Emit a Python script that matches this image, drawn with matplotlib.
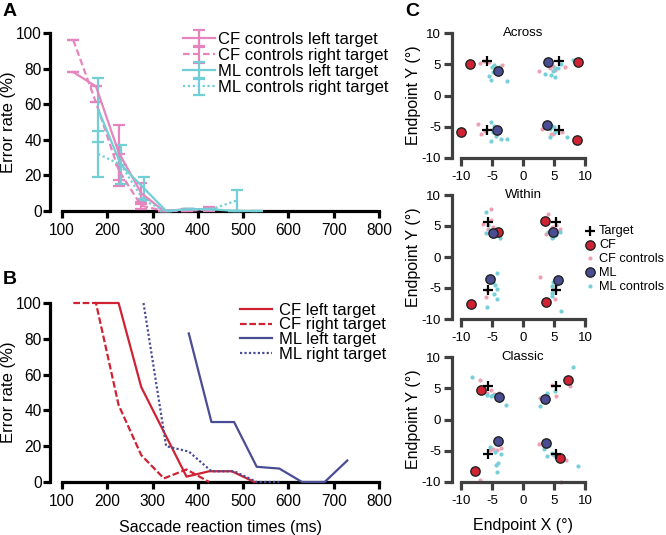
import numpy as np
import matplotlib
matplotlib.use('Agg')
import matplotlib.pyplot as plt

plt.rcParams['font.family'] = ['Liberation Sans', 'DejaVu Sans']
plt.rcParams['axes.unicode_minus'] = False

# ---- Panel A: controls, error rate vs saccade reaction time ----
cf_ctrl_x = [125, 175, 225, 275, 325, 375, 425]
cf_ctrl_left = [78, 70, 33, 10, 0, 1, 1]
cf_ctrl_left_err = [0, 0, 15.5, 6, 0, 0, 1]
cf_ctrl_right = [96, 61, 23, 3, 0, 0, 1]
cf_ctrl_right_err = [0, 0, 9, 2, 0, 0, 0]

ml_ctrl_x_left = [180, 230, 280, 330, 380, 430, 480, 530]
ml_ctrl_left = [57, 26, 13, 0, 1, 1, 0, 0]
ml_ctrl_left_err = [18, 11, 6, 0, 0, 0, 0, 0]
ml_ctrl_x_right = [180, 230, 280, 330, 380, 430, 487]
ml_ctrl_right = [32, 26, 6, 0, 1, 1, 6]
ml_ctrl_right_err = [13, 0, 0, 0, 0, 0, 6]

# ---- Panel B: patients ----
cf_left_x = [175, 225, 275, 325, 375, 425, 475, 525]
cf_left = [100, 100, 53, 28, 3, 6, 6, 0]
cf_right_x = [125, 175, 225, 275, 325, 375, 425]
cf_right = [100, 100, 43, 15, 2, 7, 0]
ml_left_x = [380, 430, 480, 530, 580, 630, 680, 730]
ml_left = [83, 33.5, 33.5, 8.5, 7.5, 0, 0, 12]
ml_right_x = [280, 330, 380, 430, 480, 530, 580]
ml_right = [100, 20, 17, 6, 6, 0, 0]

# ---- Panel C: endpoints ----
conditions = ['Across', 'Within', 'Classic']
targets = {
    'Across': [(-5.8, 5.5), (5.8, 5.5), (-5.8, -5.5), (5.8, -5.5)],
    'Within': [(-5.6, 5.6), (5.4, 5.6), (-5.6, -5.4), (5.4, -5.4)],
    'Classic': [(-5.6, 5.4), (5.4, 5.4), (-5.6, -5.5), (5.4, -5.5)],
}
cf_pts = {
    'Across': [(-8.5, 5.1), (8.9, 5.3), (-10.0, -5.9), (8.7, -7.1)],
    'Within': [(-4.1, 4.1), (3.5, 5.8), (-8.4, -7.6), (3.7, -7.2)],
    'Classic': [(-6.8, 4.8), (7.3, 6.4), (-7.8, -8.2), (6.0, -6.1)],
}
ml_pts = {
    'Across': [(-4.1, 4.0), (4.1, 5.3), (-4.2, -5.5), (3.8, -4.7)],
    'Within': [(-4.9, 3.8), (4.9, 4.1), (-5.3, -3.6), (5.6, -3.7)],
    'Classic': [(-3.9, 3.6), (3.6, 3.3), (-4.1, -3.4), (3.7, -3.7)],
}
cf_ctrl_pts = {
    'Across': [(-6.9, 5.2), (-6.3, 5.5), (-5.5, 5.3), (-4.4, 4.6), (-3.4, 4.9), (-3.7, 4.4),
               (2.5, 3.9), (4.4, 4.4), (4.8, 4.8), (6.7, 4.5), (5.2, 4.1), (3.9, 4.9),
               (-7.3, -4.5), (-6.8, -6.2), (-4.4, -5.0), (-3.9, -5.2), (-4.1, -5.8), (-6.2, -5.6),
               (3.1, -5.3), (4.1, -5.2), (4.8, -6.1), (5.1, -5.7), (6.3, -5.9), (4.5, -6.2)],
    'Within': [(-5.1, 7.7), (-6.5, 5.3), (-4.8, 4.9), (-5.6, 4.5), (-4.2, 4.1), (-5.2, 5.9),
               (4.1, 6.9), (3.7, 3.7), (6.0, 4.5), (5.4, 5.2), (4.6, 4.9),
               (-5.9, -6.5), (-5.1, -3.7), (-4.8, -3.4), (-5.8, -5.3),
               (2.7, -3.2), (6.0, -3.4), (5.2, -6.7), (4.9, -5.2)],
    'Classic': [(-7.0, 6.3), (-5.1, 4.7), (-4.7, 4.1), (-3.8, 4.3), (-5.8, 4.2),
                (2.7, 3.5), (4.6, 5.6), (5.3, 3.8), (7.5, 5.4), (3.8, 4.1),
                (-7.0, -9.7), (-4.2, -4.9), (-3.6, -4.5), (-5.4, -4.8), (-4.8, -4.7),
                (2.6, -3.9), (4.6, -5.5), (7.0, -6.5), (6.1, -10.0), (3.7, -4.3)],
}
ml_ctrl_pts = {
    'Across': [(-5.0, 4.5), (-4.6, 4.9), (-4.4, 4.3), (-4.9, 3.7), (-5.5, 3.1), (-5.1, 2.5), (-2.6, 2.4), (-3.9, 4.6),
               (4.9, 3.9), (5.1, 4.4), (4.5, 3.3), (5.2, 2.9), (6.1, 5.1), (8.0, 5.7), (5.6, 4.4), (3.5, 3.5),
               (-5.1, -4.2), (-4.7, -4.8), (-4.4, -6.4), (-5.1, -7.2), (-3.6, -6.9), (-2.6, -6.9), (-4.6, -5.3), (-4.9, -5.9),
               (3.8, -4.6), (4.3, -5.4), (5.0, -5.0), (4.3, -6.6), (7.1, -6.7), (5.1, -5.9), (3.6, -5.1), (4.6, -4.9)],
    'Within': [(-6.0, 7.2), (-6.0, 3.8), (-5.4, 4.4), (-4.5, 3.4), (-3.7, 3.0), (-4.2, 3.7), (-5.6, 5.2),
               (4.8, 3.3), (4.6, 3.0), (5.4, 3.5), (6.0, 4.1), (4.1, 4.1), (5.0, 4.4),
               (-4.2, -2.6), (-4.5, -4.5), (-4.2, -5.2), (-4.7, -6.0), (-5.8, -8.1), (-4.2, -6.7), (-4.9, -4.1),
               (4.9, -4.0), (4.6, -4.7), (4.6, -5.8), (4.6, -6.3), (6.1, -8.7), (5.4, -4.5), (5.2, -5.3)],
    'Classic': [(-8.3, 6.8), (-5.8, 4.0), (-5.2, 3.7), (-4.5, 3.7), (-3.7, 3.1), (-2.7, 2.4), (-4.9, 3.9),
                (2.7, 2.1), (3.8, 4.2), (5.2, 4.6), (8.1, 8.4), (3.3, 3.3),
                (-5.3, -4.4), (-3.6, -5.5), (-4.0, -7.0), (-4.4, -7.3), (-4.2, -8.4), (-4.5, -5.2),
                (3.4, -4.7), (3.8, -5.9), (4.6, -5.4), (5.0, -5.6), (8.9, -7.5), (4.2, -4.0)],
}

PINK = '#e684bd'
CYAN = '#72cfd8'
RED = '#cf2233'
BLUE = '#4a4c94'
CF_DOT = '#eda2b3'
ML_DOT = '#76cfd9'
C_COL = '#404040'

W, H = 666, 535
fig = plt.figure(figsize=(W / 100, H / 100), dpi=100)


def px_axes(x0, y0, x1, y1):
    """Axes from pixel box (left, top, right, bottom)."""
    return fig.add_axes([x0 / W, 1 - y1 / H, (x1 - x0) / W, (y1 - y0) / H])


def style_rt_axes(ax):
    ax.set_xlim(100, 800)
    ax.set_ylim(0, 100)
    ax.set_xticks(range(100, 801, 100))
    ax.set_yticks(range(0, 101, 20))
    for s in ['top', 'right']:
        ax.spines[s].set_visible(False)
    ax.spines['left'].set_position(('outward', 9))
    ax.spines['left'].set_bounds(0, 100)
    for s in ['left', 'bottom']:
        ax.spines[s].set_linewidth(2.3)
        ax.spines[s].set_zorder(1)
    ax.tick_params(width=2.3, length=5, labelsize=11.2)
    ax.tick_params(axis='y', pad=0.5)
    ax.tick_params(axis='x', pad=3.5)
    ax.set_ylabel('Error rate (%)', fontsize=12, labelpad=0)
    ax.patch.set_alpha(0)


# Panel A
axA = px_axes(62, 33, 379, 211)
style_rt_axes(axA)
ekw = dict(capsize=4, elinewidth=1.6, capthick=1.6, lw=1.6, clip_on=False, zorder=3)
axA.errorbar(cf_ctrl_x, cf_ctrl_left, yerr=cf_ctrl_left_err, color=PINK, ls='-',
             label='CF controls left target', **ekw)
axA.errorbar(cf_ctrl_x, cf_ctrl_right, yerr=cf_ctrl_right_err, color=PINK, ls=(0, (3, 1.5)),
             label='CF controls right target', **ekw)
axA.errorbar(ml_ctrl_x_left, ml_ctrl_left, yerr=ml_ctrl_left_err, color=CYAN, ls='-',
             label='ML controls left target', **ekw)
axA.errorbar(ml_ctrl_x_right, ml_ctrl_right, yerr=ml_ctrl_right_err, color=CYAN, ls=(0, (1, 1.2)),
             label='ML controls right target', **ekw)
axA.legend(loc='upper left', bbox_to_anchor=(183 / W, 1 - 32 / H), bbox_transform=fig.transFigure,
           frameon=False, fontsize=12, handlelength=1.9, handletextpad=0.2,
           labelspacing=0.06, borderpad=0, borderaxespad=0)

# Panel B
axB = px_axes(62, 303, 379, 482)
style_rt_axes(axB)
lkw = dict(lw=1.6, clip_on=False, zorder=3)
axB.plot(cf_left_x, cf_left, color=RED, ls='-', label='CF left target', **lkw)
axB.plot(cf_right_x, cf_right, color=RED, ls=(0, (3, 1.2)), label='CF right target', **lkw)
axB.plot(ml_left_x, ml_left, color=BLUE, ls='-', label='ML left target', **lkw)
axB.plot(ml_right_x, ml_right, color=BLUE, ls=(0, (1, 1)), label='ML right target', **lkw)
axB.set_xlabel('Saccade reaction times (ms)', fontsize=11.5, labelpad=8)
axB.legend(loc='upper left', bbox_to_anchor=(240 / W, 1 - 303 / H), bbox_transform=fig.transFigure,
           frameon=False, fontsize=12, handlelength=1.9, handletextpad=0.45,
           labelspacing=-0.03, borderpad=0, borderaxespad=0)

# Panel C
c_boxes = [(461, 33, 585, 158), (461, 195, 585, 319), (461, 357, 585, 482)]
axes_c = []
for cond, box in zip(conditions, c_boxes):
    ax = px_axes(*box)
    ax.set_xlim(-10, 10)
    ax.set_ylim(-10, 10)
    ax.set_xticks([-10, -5, 0, 5, 10])
    ax.set_yticks([-10, -5, 0, 5, 10])
    for s in ['top', 'right']:
        ax.spines[s].set_visible(False)
    ax.spines['left'].set_position(('outward', 6.5))
    for s in ['left', 'bottom']:
        ax.spines[s].set_linewidth(2.3)
        ax.spines[s].set_color(C_COL)
    ax.tick_params(width=2.3, length=6, labelsize=9.5, color=C_COL)
    ax.tick_params(axis='y', pad=2)
    ax.tick_params(axis='x', pad=3.5)
    ax.set_ylabel('Endpoint Y (°)', fontsize=11.5, labelpad=0)
    ax.text(0, 10, cond, ha='center', va='center', fontsize=9.5)

    cc = np.array(cf_ctrl_pts[cond])
    mc = np.array(ml_ctrl_pts[cond])
    cf = np.array(cf_pts[cond])
    ml = np.array(ml_pts[cond])
    tg = np.array(targets[cond])
    ax.scatter(cc[:, 0], cc[:, 1], s=9, color=CF_DOT, lw=0, zorder=2, label='CF controls', clip_on=False)
    ax.scatter(mc[:, 0], mc[:, 1], s=9, color=ML_DOT, lw=0, zorder=2, label='ML controls', clip_on=False)
    ax.scatter(cf[:, 0], cf[:, 1], s=45, color=RED, edgecolor='#222222', lw=1, zorder=3, label='CF', clip_on=False)
    ax.scatter(ml[:, 0], ml[:, 1], s=45, color=BLUE, edgecolor='#222222', lw=1, zorder=3, label='ML', clip_on=False)
    ax.scatter(tg[:, 0], tg[:, 1], s=60, marker='+', color='black', lw=1.6, zorder=4, label='Target', clip_on=False)
    axes_c.append(ax)

axes_c[-1].set_xlabel('Endpoint X (°)', fontsize=11.5, labelpad=8)

h, l = axes_c[1].get_legend_handles_labels()
order = [l.index(n) for n in ['Target', 'CF', 'CF controls', 'ML', 'ML controls']]
axes_c[1].legend([h[i] for i in order], [l[i] for i in order], loc='upper left',
                 bbox_to_anchor=(585 / W, 1 - 225 / H), bbox_transform=fig.transFigure,
                 frameon=False, fontsize=9.2, handlelength=0.8, handletextpad=0.3,
                 labelspacing=0.15, borderpad=0, borderaxespad=0, markerscale=1.0)

# Panel letters
fig.text(3 / W, 1 - 11 / H, 'A', fontsize=14, fontweight='bold', va='center')
fig.text(3 / W, 1 - 279 / H, 'B', fontsize=14, fontweight='bold', va='center')
fig.text(405 / W, 1 - 11 / H, 'C', fontsize=14, fontweight='bold', va='center')

fig.savefig('out.png', dpi=100)
